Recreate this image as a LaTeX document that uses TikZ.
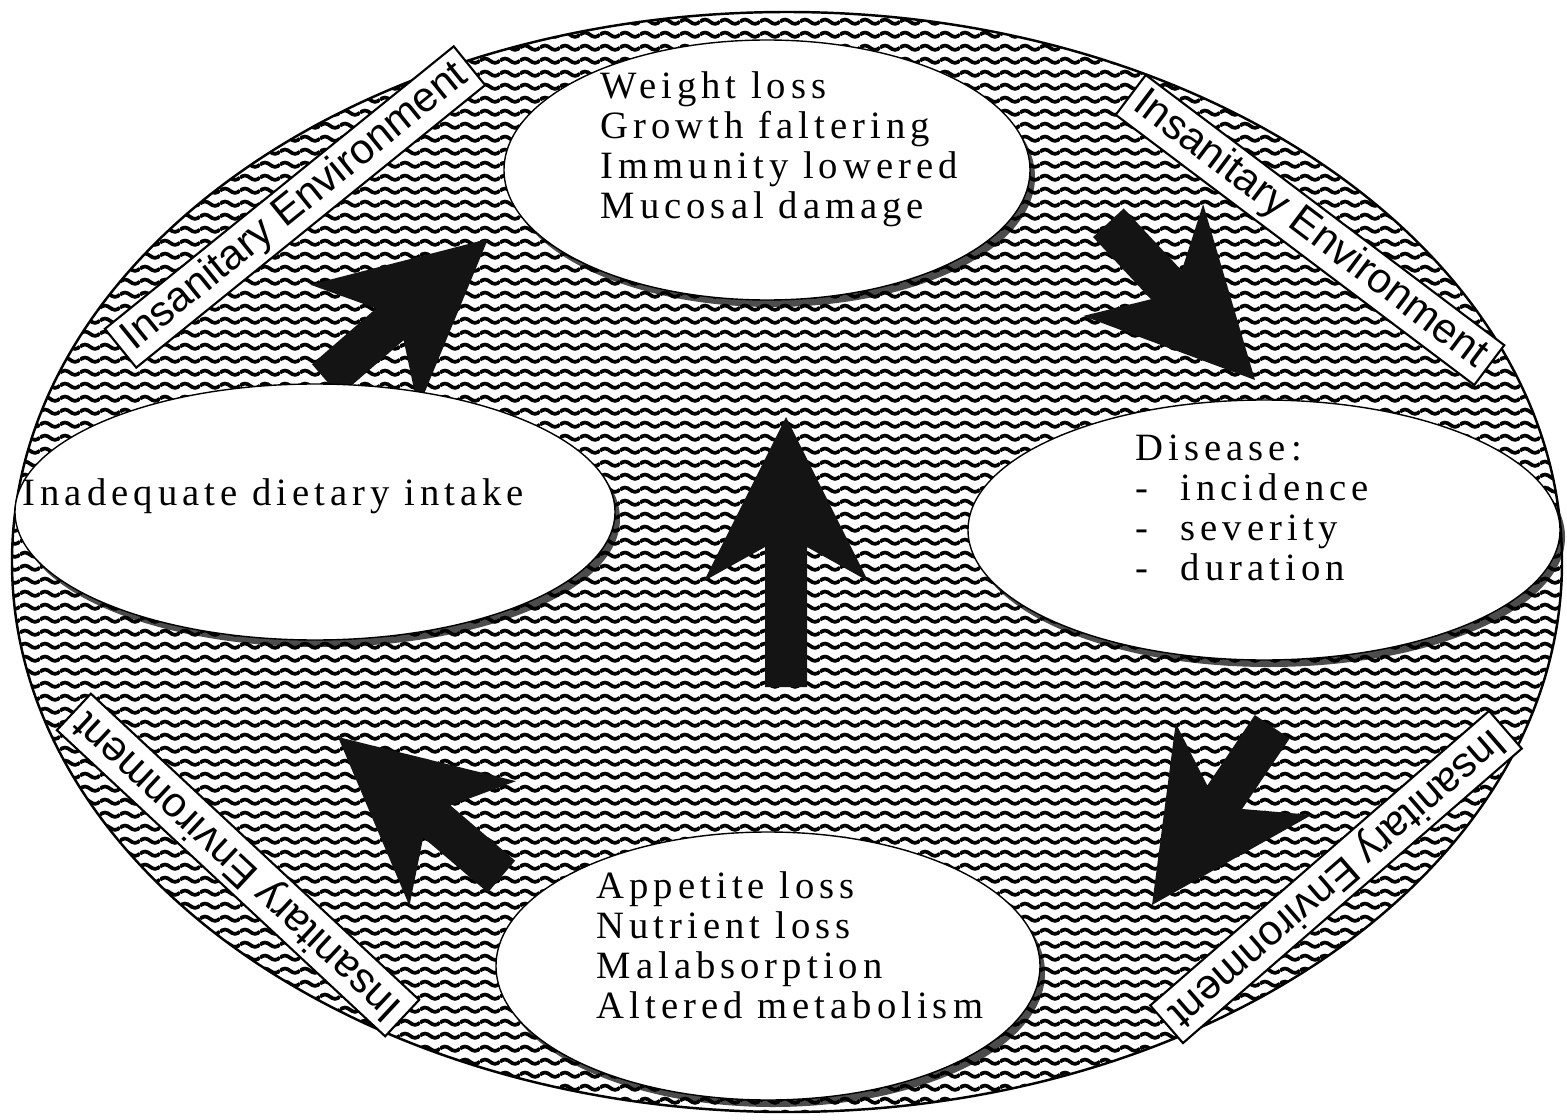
\documentclass[tikz,border=0pt]{standalone}
\usepackage{fontspec}
\setmainfont{Liberation Serif}
\newfontfamily\discfont[LetterSpace=13]{Liberation Serif}
\newfontfamily\labelfont{Liberation Sans}
\usetikzlibrary{patterns,shapes.geometric,shadows}

% wavy hatching of the big ellipse
\pgfdeclarepatternformonly{wavy}{\pgfqpoint{0pt}{0pt}}{\pgfqpoint{5.69pt}{3.78pt}}{\pgfqpoint{5.69pt}{3.78pt}}{%
  \pgfsetlinewidth{1.1pt}
  \pgfpathmoveto{\pgfqpoint{0pt}{1.89pt}}
  \pgfpathsine{\pgfqpoint{1.4225pt}{0.65pt}}
  \pgfpathcosine{\pgfqpoint{1.4225pt}{-0.65pt}}
  \pgfpathsine{\pgfqpoint{1.4225pt}{-0.65pt}}
  \pgfpathcosine{\pgfqpoint{1.4225pt}{0.65pt}}
  \pgfusepath{stroke}}

\tikzset{
  disc/.style={ellipse, draw, line width=0.4pt, fill=white, inner sep=0pt,
    drop shadow={shadow xshift=0.05cm, shadow yshift=-0.07cm, fill=black, opacity=0.7}},
  listtext/.style={font=\discfont\fontsize{11}{11.4}\selectfont, align=left, inner sep=0pt},
  envlabel/.style={draw, fill=white, line width=0.6pt,
    font=\labelfont\fontsize{12}{14}\selectfont, inner xsep=2.5pt, inner ysep=1.5pt},
  fatarrow/.pic={\fill[black!92] (0,0) -- (-1.64,0.82) -- (-1.30,0.21) -- (-#1,0.21)
    -- (-#1,-0.21) -- (-1.30,-0.21) -- (-1.64,-0.82) -- cycle;}
}

\begin{document}
\begin{tikzpicture}
  \useasboundingbox (0,0) rectangle (15.67,11.19);
  \fill[white] (0,0) rectangle (15.67,11.19);

  % hatched ground
  \fill[pattern=wavy] (7.87,5.57) ellipse [x radius=7.75, y radius=5.50];
  \draw[line width=0.7pt] (7.87,5.57) ellipse [x radius=7.75, y radius=5.50];

  % environment labels
  \node[envlabel, rotate=39] (envTL) at (2.95,9.12) {Insanitary Environment};
  \node[envlabel, rotate=-37] (envTR) at (13.10,8.89) {Insanitary Environment};
  \node[envlabel, rotate=137] (envBL) at (2.38,2.54) {Insanitary Environment};
  \node[envlabel, rotate=221] (envBR) at (13.36,2.42) {Insanitary Environment};

  % arrows of the cycle
  \pic[rotate=90] at (7.86,7.02) {fatarrow=2.70};
  \pic[rotate=41] at (4.88,8.80) {fatarrow=2.15};
  \pic[rotate=-47] at (12.55,7.39) {fatarrow=2.15};
  \pic[rotate=236] at (11.52,2.14) {fatarrow=2.15};
  \pic[rotate=139.5] at (3.38,3.82) {fatarrow=2.15};

  % discs
  \node[disc, minimum width=5.26cm, minimum height=2.60cm] (weight) at (7.67,9.49) {};
  \node[disc, minimum width=6.00cm, minimum height=2.56cm] (diet) at (3.15,6.07) {};
  \node[disc, minimum width=5.92cm, minimum height=2.60cm] (disease) at (12.64,5.89) {};
  \node[disc, minimum width=5.44cm, minimum height=2.68cm] (appetite) at (7.68,1.53) {};

  % disc texts
  \node[listtext, anchor=north west] (weighttxt) at (6.00,10.48) {%
    Weight loss\\Growth faltering\\Immunity lowered\\Mucosal damage};
  \node[listtext, anchor=base west] (diettxt) at (0.22,6.14) {Inadequate dietary intake};
  \node[listtext, anchor=north west] (diseasetxt) at (11.35,6.85) {%
    Disease:\\\makebox[0.45cm][l]{-}incidence\\\makebox[0.45cm][l]{-}severity\\\makebox[0.45cm][l]{-}duration};
  \node[listtext, anchor=north west] (appetitetxt) at (5.96,2.48) {%
    Appetite loss\\Nutrient loss\\Malabsorption\\Altered metabolism};
\end{tikzpicture}
\end{document}
